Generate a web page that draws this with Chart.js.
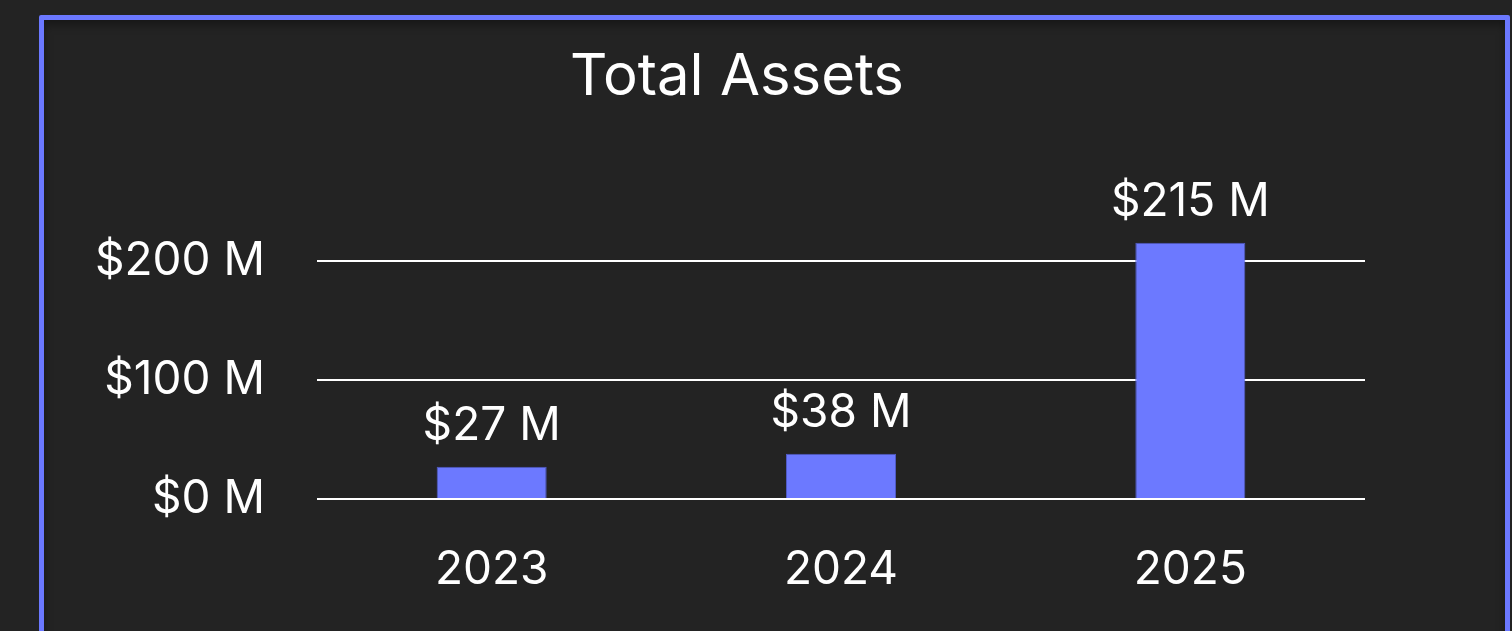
<!DOCTYPE html>
<html lang="en">
<head>
    <meta charset="UTF-8">
    <title>Total Assets</title>
    <script src="https://cdn.jsdelivr.net/npm/chart.js"></script>
    <style>
        html, body { margin: 0; padding: 0; background: #232323; overflow: hidden; }
        body { width: 1512px; height: 631px; position: relative; font-family: Inter, Arial, sans-serif; }
        #assetsChart { position: absolute; left: 0; top: 0; }
        .frame {
            position: absolute;
            left: 39px; top: 15px; width: 1461px; height: 640px;
            border: 5px solid #6b78ff;
            border-radius: 2px;
            box-shadow: inset 0 5px 8px rgba(0, 0, 0, 0.35);
            pointer-events: none;
        }
    </style>
</head>
<body>

<canvas id="assetsChart" width="1512" height="631"></canvas>
<div class="frame"></div>

<script>
// chart data
const chartTitle = 'Total Assets';
const years = ['2023', '2024', '2025'];
const totalAssets = [27, 38, 215];   // $ millions
const yTicks = [0, 100, 200];

const barColor = '#6c79ff';
const textColor = '#ffffff';

// title sits a bit left of the plot centre, so draw it ourselves
const titleText = {
    id: 'titleText',
    afterDraw(chart) {
        const ctx = chart.ctx;
        ctx.save();
        ctx.fillStyle = textColor;
        ctx.font = '58px Inter';
        ctx.textAlign = 'center';
        ctx.textBaseline = 'middle';
        ctx.fillText(chartTitle, 737, 77.5);
        ctx.restore();
    }
};

// value labels above the bars
const valueLabels = {
    id: 'valueLabels',
    afterDatasetsDraw(chart) {
        const ctx = chart.ctx;
        const meta = chart.getDatasetMeta(0);
        ctx.save();
        ctx.fillStyle = textColor;
        ctx.font = '46px Inter';
        ctx.textAlign = 'center';
        ctx.textBaseline = 'alphabetic';
        meta.data.forEach((bar, i) => {
            ctx.fillText('$' + totalAssets[i] + ' M', bar.x, bar.y - 27);
        });
        ctx.restore();
    }
};

const ctx = document.getElementById('assetsChart').getContext('2d');
new Chart(ctx, {
    type: 'bar',
    data: {
        labels: years,
        datasets: [{
            data: totalAssets,
            backgroundColor: barColor,
            borderColor: '#4f5ac4',
            borderWidth: 1,
            barPercentage: 1,
            categoryPercentage: 0.315
        }]
    },
    options: {
        responsive: false,
        animation: false,
        layout: { padding: { left: 0, right: 147, top: 225, bottom: 0 } },
        plugins: {
            legend: { display: false },
            tooltip: { enabled: false },
            title: { display: false }
        },
        scales: {
            x: {
                grid: { display: false },
                border: { display: false },
                ticks: {
                    color: textColor,
                    font: { family: 'Inter', size: 46 },
                    padding: 36
                },
                afterFit(scale) { scale.height = 132; }
            },
            y: {
                min: 0,
                max: 230,
                afterBuildTicks(scale) {
                    scale.ticks = yTicks.map(v => ({ value: v }));
                },
                grid: { color: '#ffffff', lineWidth: 2, drawTicks: false },
                border: { display: false },
                ticks: {
                    color: textColor,
                    font: { family: 'Inter', size: 46 },
                    padding: 52,
                    callback: v => '$' + v + ' M'
                },
                afterFit(scale) { scale.width = 317; }
            }
        }
    },
    plugins: [titleText, valueLabels]
});
</script>

</body>
</html>
